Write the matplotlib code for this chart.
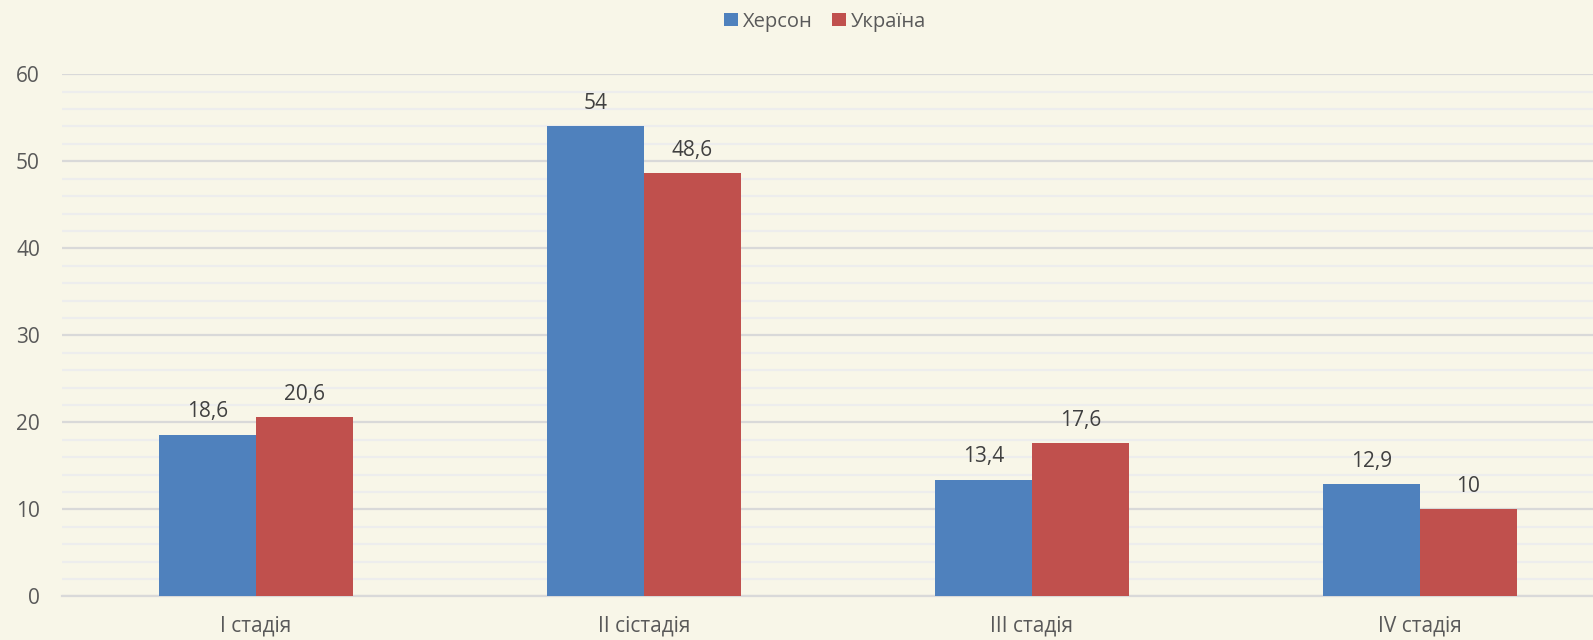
import matplotlib
matplotlib.use("Agg")
import matplotlib.pyplot as plt
import numpy as np

categories = ["I стадія", "II сістадія", "III стадія", "IV стадія"]
kherson = [18.6, 54, 13.4, 12.9]
ukraine = [20.6, 48.6, 17.6, 10]
series_names = ["Херсон", "Україна"]

plt.rcParams['font.family'] = ['Open Sans', 'DejaVu Sans']
text_col = "#595959"
bg = "#F8F6E8"

fig = plt.figure(figsize=(15.93, 6.4), dpi=100, facecolor=bg)
ax = fig.add_axes([0.039, 0.068, 0.974, 0.816], facecolor=bg)

x = np.arange(len(categories))
w = 0.25
b1 = ax.bar(x - w / 2, kherson, w, color="#4F81BD", label=series_names[0], zorder=3)
b2 = ax.bar(x + w / 2, ukraine, w, color="#C0504D", label=series_names[1], zorder=3)

def fmt(v):
    return ("%g" % v).replace(".", ",")

for bars, vals in ((b1, kherson), (b2, ukraine)):
    for r, v in zip(bars, vals):
        ax.annotate(fmt(v), (r.get_x() + r.get_width() / 2, v),
                    xytext=(0, 9), textcoords="offset points",
                    ha="center", va="bottom", fontsize=15, color="#404040")

ax.set_xlim(-0.5, 3.5)
ax.set_ylim(0, 60)
ax.set_yticks(range(0, 61, 10))
ax.set_yticks(range(0, 61, 2), minor=True)
ax.set_xticks(x)
ax.set_xticklabels(categories)
ax.grid(axis="y", which="major", color="#D9D9D9", linewidth=1.6, zorder=0)
ax.grid(axis="y", which="minor", color="#EDEDED", linewidth=1.6, zorder=0)
ax.tick_params(axis="both", which="both", length=0, labelsize=15, colors=text_col)
ax.tick_params(axis="y", pad=16)
ax.tick_params(axis="x", pad=14)
for s in ["top", "right", "left"]:
    ax.spines[s].set_visible(False)
ax.spines["bottom"].set_color("#D9D9D9")
ax.spines["bottom"].set_linewidth(1.6)

leg = fig.legend(loc="upper center", bbox_to_anchor=(0.518, 1.01), ncol=2,
                 frameon=False, fontsize=14.5, handlelength=0.65, handleheight=0.65,
                 handletextpad=0.25, columnspacing=1.0)
for t in leg.get_texts():
    t.set_color(text_col)

fig.savefig("out.png", dpi=100, facecolor=bg)
